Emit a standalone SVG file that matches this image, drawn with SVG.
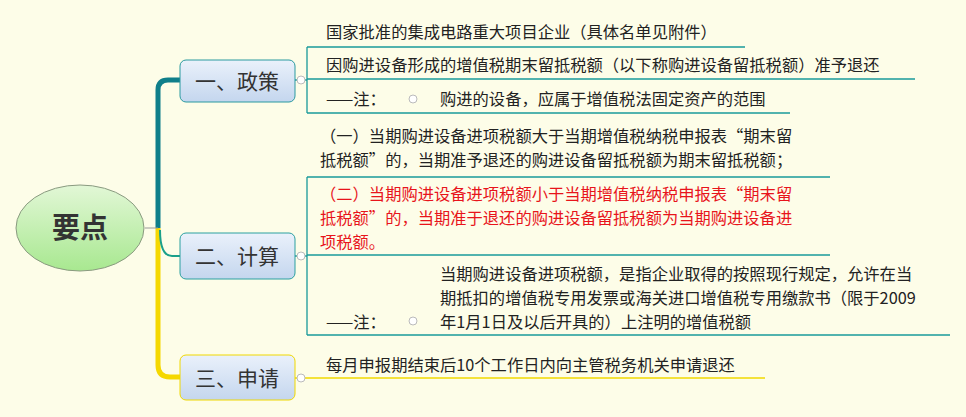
<svg xmlns="http://www.w3.org/2000/svg" width="966" height="417" viewBox="0 0 966 417">
<defs>
<linearGradient id="bx" x1="0" y1="0" x2="0" y2="1"><stop offset="0" stop-color="#eaf1fb"/><stop offset="1" stop-color="#c4d6ee"/></linearGradient>
<linearGradient id="el" x1="0" y1="0" x2="0" y2="1"><stop offset="0" stop-color="#e2f7d6"/><stop offset="1" stop-color="#a8e890"/></linearGradient>
</defs>
<style>
text{font-family:"Noto Sans CJK SC","Liberation Sans",sans-serif;font-size:16.3px;fill:#222}
.b{font-size:21px;fill:#333}
.r{fill:#e8141b}
.t{stroke:#1a9a9a;stroke-width:1.3;fill:none}
.y{stroke:#f0d800;stroke-width:1.3;fill:none}
.c{fill:#fff;stroke:#bbb;stroke-width:1}
</style>
<rect width="966" height="417" fill="#fdfde8"/>
<g id="connectors">
<path d="M158 228 V90 Q158 80 168 80 H180" stroke="#0f7f8a" stroke-width="5" fill="none"/>
<path d="M158 228 V365 Q158 377 170 377 H180" stroke="#f5d800" stroke-width="5" fill="none"/>
<path d="M160 230 Q160 256 172 256 H180" stroke="#1aa08a" stroke-width="2" fill="none"/>
<line x1="145" y1="228" x2="158" y2="228" stroke="#999"/>
<path class="t" d="M295 80 H307 M307 47 V113 M307 47 H745 M307 79 H915 M307 113 H790"/>
<path class="t" d="M295 256 H307 M307 177 V335 M307 177 H830 M307 255 H830 M307 335 H950"/>
<path class="y" d="M295 378 H765"/>
</g>
<g id="root"><ellipse cx="80" cy="228" rx="64" ry="43" fill="url(#el)" stroke="#8a9a80"/><text x="80" y="238" text-anchor="middle" style="font-size:28px;font-weight:bold;fill:#333">要点</text></g>
<g id="n1"><rect x="180" y="60" width="115" height="42" rx="6" fill="url(#bx)" stroke="#2a9aa0"/><text class="b" x="237" y="89" text-anchor="middle">一、政策</text><circle class="c" cx="301" cy="80" r="4"/></g>
<g id="n2"><rect x="180" y="233" width="115" height="46" rx="6" fill="url(#bx)" stroke="#2aa0a0"/><text class="b" x="237" y="264" text-anchor="middle">二、计算</text><circle class="c" cx="301" cy="256" r="4"/></g>
<g id="n3"><rect x="180" y="355" width="115" height="45" rx="6" fill="url(#bx)" stroke="#f0d800"/><text class="b" x="237" y="386" text-anchor="middle">三、申请</text><circle class="c" cx="301" cy="378" r="4"/></g>
<g id="p1"><text x="326" y="38">国家批准的集成电路重大项目企业（具体名单见附件）</text></g>
<g id="p2"><text x="326" y="71">因购进设备形成的增值税期末留抵税额（以下称购进设备留抵税额）准予退还</text></g>
<g id="p3"><text x="326" y="105">——注：</text><circle class="c" cx="413" cy="99" r="4"/><text x="440" y="105">购进的设备，应属于增值税法固定资产的范围</text></g>
<g id="c1"><text x="320" y="142">（一）当期购进设备进项税额大于当期增值税纳税申报表“期末留</text><text x="320" y="166">抵税额”的，当期准予退还的购进设备留抵税额为期末留抵税额；</text></g>
<g id="c2"><text class="r" x="320" y="200">（二）当期购进设备进项税额小于当期增值税纳税申报表“期末留</text><text class="r" x="320" y="224">抵税额”的，当期准于退还的购进设备留抵税额为当期购进设备进</text><text class="r" x="320" y="248">项税额。</text></g>
<g id="c3"><text x="440" y="280">当期购进设备进项税额，是指企业取得的按照现行规定，允许在当</text><text x="440" y="304">期抵扣的增值税专用发票或海关进口增值税专用缴款书（限于2009</text><text x="440" y="328">年1月1日及以后开具的）上注明的增值税额</text><text x="326" y="328">——注：</text><circle class="c" cx="413" cy="321" r="4"/></g>
<g id="a1"><text x="326" y="371">每月申报期结束后10个工作日内向主管税务机关申请退还</text></g>
</svg>
